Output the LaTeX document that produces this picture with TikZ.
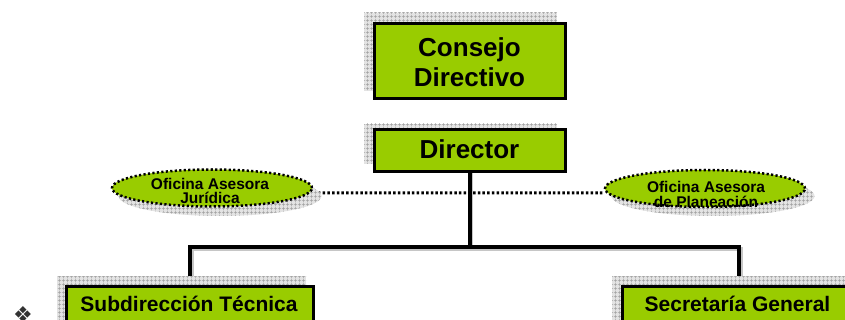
\documentclass[tikz,border=0pt]{standalone}
\usepackage{fontspec}
\setmainfont{Liberation Sans}
\newfontfamily\symfont{DejaVu Sans}
\usetikzlibrary{shapes.geometric,patterns.meta,backgrounds}
\definecolor{boxgreen}{RGB}{153,204,0}
\tikzset{
  gridshadow/.style={fill=gray!22, postaction={pattern={Hatch[distance=4pt,line width=0.6pt]}, pattern color=gray!75}},
  orgbox/.style={draw=black, line width=3pt, fill=boxgreen, inner sep=0pt},
  advisor/.style={ellipse, draw=black, line width=2.5pt, dash pattern=on 2.2pt off 2.3pt, fill=boxgreen, minimum width=200pt, minimum height=37pt, inner sep=0pt},
  advshadow/.style={ellipse, gridshadow, minimum width=203pt, minimum height=40pt, inner sep=0pt},
  bigtext/.style={font=\bfseries\fontsize{26}{30}\selectfont, align=center, inner sep=0pt},
  midtext/.style={font=\bfseries\fontsize{21}{25}\selectfont, inner sep=0pt},
  smalltext/.style={font=\bfseries\fontsize{15.5}{14.5}\selectfont, align=center, inner sep=0pt},
  link/.style={line width=4pt, black},
  linkshadow/.style={line width=4pt, gray!45},
  dotlink/.style={line width=3pt, dash pattern=on 2.5pt off 2.2pt, black},
}
\begin{document}
\begin{tikzpicture}[x=1pt,y=-1pt]
\useasboundingbox (0,0) rectangle (845,320);
% box shadows (drawn first)
\path[gridshadow] (364,13) rectangle (557,91);
\path[gridshadow] (364,124) rectangle (557,164);
\path[gridshadow] (57,276) rectangle (306,330);
\path[gridshadow] (612,276) rectangle (860,330);
% ellipse shadows
\node[advshadow] (losh) at (220,196) {};
\node[advshadow] (rpsh) at (713,196) {};
% coordinates for the horizontal bar
\coordinate (hl) at (190,247);
\coordinate (hr) at (739,247);
% boxes
\node[orgbox, minimum width=191pt, minimum height=75pt] (cd) at (469.5,61) {};
\node[orgbox, minimum width=191pt, minimum height=42pt] (dir) at (469.5,150.5) {};
\node[orgbox, minimum width=247pt, minimum height=37pt] (sub) at (190,305) {};
\node[orgbox, minimum width=233pt, minimum height=37pt] (sec) at (739,304.5) {};
% advisors
\node[advisor] (lo) at (212,188) {};
\node[advisor] (rp) at (705,188.5) {};
% connectors (drawn below boxes)
\begin{scope}[on background layer]
\draw[dotlink] ([yshift=-4.8pt]lo.east) -- ([yshift=-4.5pt]rp.west);
\draw[linkshadow] ([xshift=1.5pt]dir.south) -- ([xshift=1.5pt,yshift=-1.5pt]dir.south |- hl);
\draw[linkshadow] ([xshift=1.5pt]sub.north) -- ([xshift=1.5pt,yshift=-1.5pt]sub.north |- hl) -- ([xshift=1.5pt,yshift=-1.5pt]sec.north |- hl) -- ([xshift=1.5pt]sec.north);
\draw[link] (dir.south) -- (dir.south |- hl);
\draw[link] (sub.north) -- (hl) -- (hr) -- (sec.north);
\end{scope}
% texts
\node[bigtext] (cdt) at (469.5,62.5) {Consejo\\Directivo};
\node[bigtext, anchor=base] (dirt) at (469.5,159) {Director};
\node[midtext, anchor=base] (subt) at (189,311) {Subdirección Técnica};
\node[midtext, anchor=base] (sect) at (737.5,311) {Secretaría General};
\node[smalltext] (lot) at (210,191) {Oficina Asesora\\Jurídica};
\node[smalltext] (rpt) at (706,194.5) {Oficina Asesora\\de Planeación};
% bullet symbol
\node[font=\symfont\fontsize{22}{22}\selectfont, text=black!80, inner sep=0pt] (bul) at (23,315) {❖};
\end{tikzpicture}
\end{document}
